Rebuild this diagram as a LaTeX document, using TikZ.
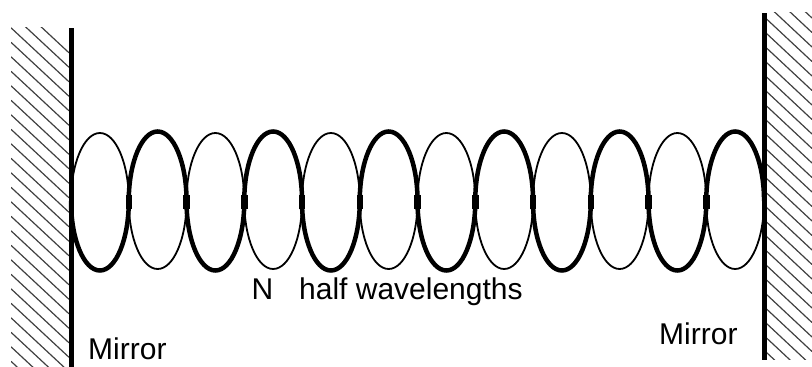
\documentclass[tikz,border=0pt]{standalone}
\usepackage{fontspec}
\setmainfont{Liberation Sans}
\usetikzlibrary{positioning, calc}

\begin{document}
\begin{tikzpicture}[x=1pt, y=1pt,
    mirror/.style={line width=5pt},
    hatch/.style={line width=1.2pt, black!75},
    thinlobe/.style={line width=1.8pt},
    thicklobe/.style={line width=4.5pt},
    stub/.style={line width=6.5pt},
    label/.style={anchor=base west, inner sep=0pt, font=\fontsize{30}{32}\selectfont}]
  \useasboundingbox (0,0) rectangle (812,367);

  % hatching behind the two mirrors
  \begin{scope}
    \clip (11,0) rectangle (69,339);
    \foreach \k in {-2,...,30}
      \draw[hatch] (11,{339.2-14.5*\k}) -- ++(58,-54);
  \end{scope}
  \begin{scope}
    \clip (766,7) rectangle (812,354);
    \foreach \k in {-2,...,30}
      \draw[hatch] (766,{363-14.5*\k}) -- ++(46,-43);
  \end{scope}

  \coordinate (LA) at (71.5,0);
  \coordinate (LB) at (71.5,339);
  \coordinate (RA) at (764,7);
  \coordinate (RB) at (764,354);
  \draw[mirror] (LA) -- (LB);
  \draw[mirror] (RA) -- (RB);

  % half waves, top and bottom swap weight each time
  \foreach \i in {0,...,11} {
    \pgfmathsetmacro{\xl}{71+57.75*\i}
    \pgfmathtruncatemacro{\odd}{mod(\i,2)}
    \ifnum\odd=0
      \draw[thinlobe] (\xl,166) arc[start angle=180, end angle=0, x radius=28.9, y radius=68];
      \draw[thicklobe] (\xl,166) arc[start angle=180, end angle=360, x radius=28.9, y radius=69.5];
    \else
      \draw[thinlobe] (\xl,166) arc[start angle=180, end angle=360, x radius=28.9, y radius=68];
      \draw[thicklobe] (\xl,166) arc[start angle=180, end angle=0, x radius=28.9, y radius=69.5];
    \fi
    \ifnum\i>0
      \draw[stub] (\xl,172) -- (\xl,158);
    \fi
  }

  \node[label] (mirrorL) at (88,7) {Mirror};
  \node[label] (mirrorR) at (659,22) {Mirror};
  \node[label] (count) at (251.5,67) {N};
  \node[label] (half) at (299,67) {half wavelengths};
\end{tikzpicture}
\end{document}
